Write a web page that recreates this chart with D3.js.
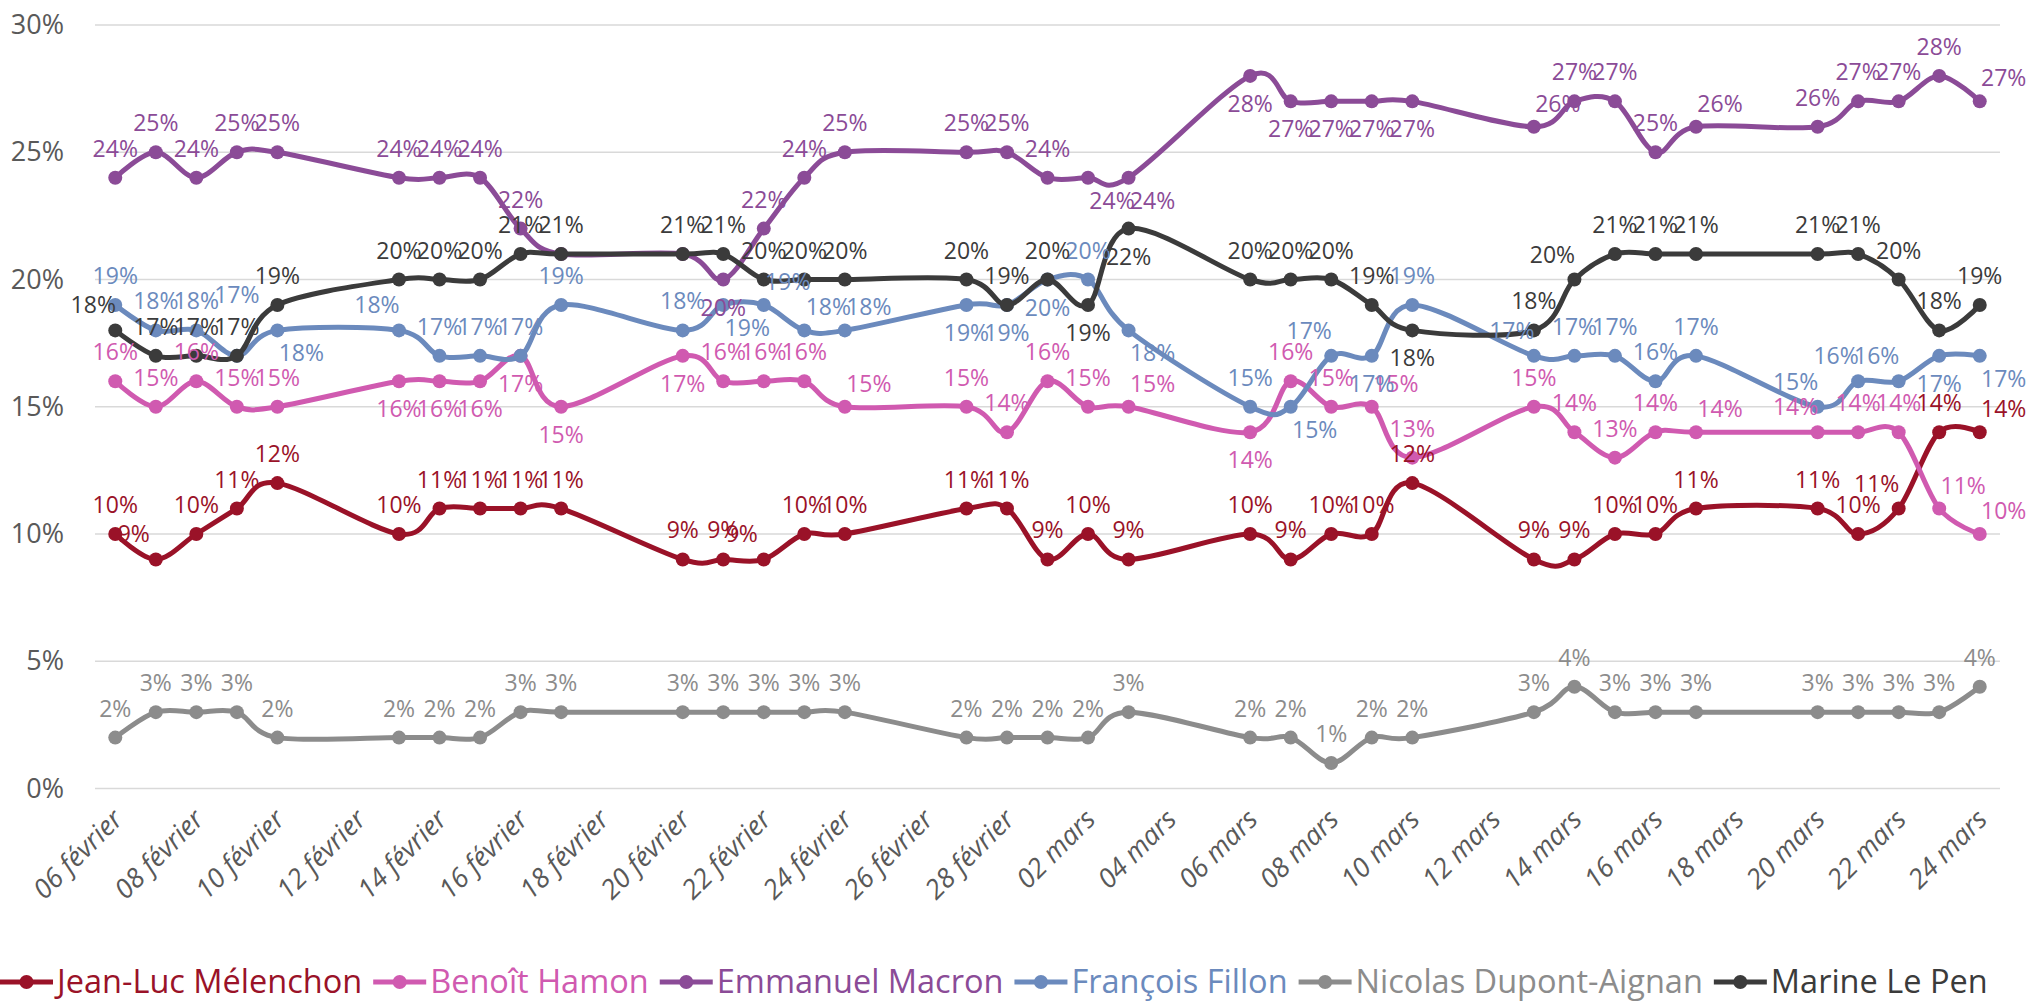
<!DOCTYPE html>
<html>
<head>
<meta charset="utf-8">
<script src="https://cdn.jsdelivr.net/npm/d3@7"></script>
<style>
  body { margin: 0; background: #fff; }
  svg { display: block; font-family: 'Open Sans', sans-serif; }
</style>
</head>
<body>
<script>
// poll dates (weekdays only)
const dates = [
  '2017-02-06', '2017-02-07', '2017-02-08', '2017-02-09', '2017-02-10',
  '2017-02-13', '2017-02-14', '2017-02-15', '2017-02-16', '2017-02-17',
  '2017-02-20', '2017-02-21', '2017-02-22', '2017-02-23', '2017-02-24',
  '2017-02-27', '2017-02-28',
  '2017-03-01', '2017-03-02', '2017-03-03',
  '2017-03-06', '2017-03-07', '2017-03-08', '2017-03-09', '2017-03-10',
  '2017-03-13', '2017-03-14', '2017-03-15', '2017-03-16', '2017-03-17',
  '2017-03-20', '2017-03-21', '2017-03-22', '2017-03-23', '2017-03-24',
]

const candidates = ['Jean-Luc Mélenchon', 'Benoît Hamon', 'Emmanuel Macron', 'François Fillon', 'Nicolas Dupont-Aignan', 'Marine Le Pen']
const colors = ['#9a1228', '#d05ab0', '#8b4b97', '#6b8abd', '#8c8c8c', '#3b3b3b']

const melenchon = [10, 9, 10, 11, 12, 10, 11, 11, 11, 11, 9, 9, 9, 10, 10, 11, 11, 9, 10, 9, 10, 9, 10, 10, 12, 9, 9, 10, 10, 11, 11, 10, 11, 14, 14]
const hamon     = [16, 15, 16, 15, 15, 16, 16, 16, 17, 15, 17, 16, 16, 16, 15, 15, 14, 16, 15, 15, 14, 16, 15, 15, 13, 15, 14, 13, 14, 14, 14, 14, 14, 11, 10]
const macron    = [24, 25, 24, 25, 25, 24, 24, 24, 22, 21, 21, 20, 22, 24, 25, 25, 25, 24, 24, 24, 28, 27, 27, 27, 27, 26, 27, 27, 25, 26, 26, 27, 27, 28, 27]
const fillon    = [19, 18, 18, 17, 18, 18, 17, 17, 17, 19, 18, 19, 19, 18, 18, 19, 19, 20, 20, 18, 15, 15, 17, 17, 19, 17, 17, 17, 16, 17, 15, 16, 16, 17, 17]
const dupont    = [2, 3, 3, 3, 2, 2, 2, 2, 3, 3, 3, 3, 3, 3, 3, 2, 2, 2, 2, 3, 2, 2, 1, 2, 2, 3, 4, 3, 3, 3, 3, 3, 3, 3, 4]
const lepen     = [18, 17, 17, 17, 19, 20, 20, 20, 21, 21, 21, 21, 20, 20, 20, 20, 19, 20, 19, 22, 20, 20, 20, 19, 18, 18, 20, 21, 21, 21, 21, 21, 20, 18, 19]

const yTicks = [0, 5, 10, 15, 20, 25, 30]

// where each data label sits: a above, A far above, b below, L above-left, R above-right, r below-right, h hidden
const labelPlacement = [
  'aLaaa aaaaa aaLaa aa aaa aaaaa aaaaa aaLaR',
  'aaaaa bbbbb baaaR aa aaR baaRa aaaaR LaaRR',
  'aaaaa aaaah hbaaa aa arr bbbbb RaaaR aaaaR',
  'aaaAr Laaaa arRRR bb bar arLba Laaaa LLLbr',
  'aaaaa aaaaa aaaaa aa aaa aaaaa aaaaa aaaaa',
  'Laaaa aaaaa aaaaa aa abb aaaab aLaaa aaaaa',
].map(s => s.replace(/ /g, ''))

const offsets = {
  a: [0, -30], A: [0, -62], b: [0, 27],
  L: [-22, -26], R: [24, -24], r: [24, 22],
}

const WIDTH = 2026
const HEIGHT = 1001

const parse = d3.utcParse('%Y-%m-%d')
const days = dates.map(parse)
const seriesValues = [melenchon, hamon, macron, fillon, dupont, lepen]

const series = candidates.map((name, i) => ({
  name,
  color: colors[i],
  points: days.map((d, j) => ({ date: d, value: seriesValues[i][j], pos: labelPlacement[i][j] })),
}))

const svg = d3.select('body')
  .append('svg')
  .attr('width', WIDTH)
  .attr('height', HEIGHT)

const x = d3.scaleUtc()
  .domain([d3.utcHour.offset(days[0], -12), d3.utcHour.offset(days[days.length - 1], 12)])
  .range([95, 2000])

const y = d3.scaleLinear()
  .domain([0, 30])
  .range([788.5, 25])

// gridlines
svg.append('g')
  .selectAll('line')
  .data(yTicks)
  .enter()
  .append('line')
  .attr('x1', 95)
  .attr('x2', 2000)
  .attr('y1', d => y(d))
  .attr('y2', d => y(d))
  .attr('stroke', '#d9d9d9')
  .attr('stroke-width', 1.5)

// y axis
const yAxis = svg.append('g')
  .attr('transform', 'translate(64,0)')
  .call(d3.axisLeft(y).tickValues(yTicks).tickSize(0).tickPadding(0).tickFormat(d => d + '%'))
yAxis.select('.domain').remove()
yAxis.selectAll('text')
  .attr('fill', '#595959')
  .style('font-size', '27px')
  .style('font-family', "'Open Sans', sans-serif")

// x axis labels
const fr = d3.timeFormatLocale({
  dateTime: '%A %e %B %Y à %X', date: '%d/%m/%Y', time: '%H:%M:%S', periods: ['AM', 'PM'],
  days: ['dimanche', 'lundi', 'mardi', 'mercredi', 'jeudi', 'vendredi', 'samedi'],
  shortDays: ['dim.', 'lun.', 'mar.', 'mer.', 'jeu.', 'ven.', 'sam.'],
  months: ['janvier', 'février', 'mars', 'avril', 'mai', 'juin', 'juillet', 'août', 'septembre', 'octobre', 'novembre', 'décembre'],
  shortMonths: ['janv.', 'févr.', 'mars', 'avr.', 'mai', 'juin', 'juil.', 'août', 'sept.', 'oct.', 'nov.', 'déc.'],
})
const tickDates = d3.utcDay.range(days[0], d3.utcDay.offset(days[days.length - 1], 1), 2)
const fmt = fr.utcFormat('%d %B')

svg.append('g')
  .selectAll('text')
  .data(tickDates)
  .enter()
  .append('text')
  .attr('transform', d => `translate(${x(d) + 9},821) rotate(-45)`)
  .attr('text-anchor', 'end')
  .attr('fill', '#595959')
  .style('font-size', '27px')
  .style('font-style', 'italic')
  .text(d => fmt(d))

// lines + markers
const line = d3.line()
  .x(d => x(d.date))
  .y(d => y(d.value))
  .curve(d3.curveCardinal.tension(0))

const seriesG = svg.append('g')
  .selectAll('g')
  .data(series)
  .enter()
  .append('g')

seriesG.append('path')
  .attr('d', d => line(d.points))
  .attr('fill', 'none')
  .attr('stroke', d => d.color)
  .attr('stroke-width', 5)
  .attr('stroke-linejoin', 'round')

seriesG.selectAll('circle')
  .data(d => d.points.map(p => ({ ...p, color: d.color })))
  .enter()
  .append('circle')
  .attr('cx', d => x(d.date))
  .attr('cy', d => y(d.value))
  .attr('r', 7)
  .attr('fill', d => d.color)

// data labels on top of everything
const labelsG = svg.append('g')
series.forEach(s => {
  labelsG.append('g')
    .selectAll('text')
    .data(s.points.filter(p => p.pos !== 'h'))
    .enter()
    .append('text')
    .attr('x', d => x(d.date) + offsets[d.pos][0])
    .attr('y', d => y(d.value) + offsets[d.pos][1])
    .attr('text-anchor', 'middle')
    .attr('dominant-baseline', 'central')
    .attr('fill', s.color)
    .style('font-size', '23px')
    .text(d => d.value + '%')
})

// legend
const legend = svg.append('g')
let lx = 0
series.forEach(s => {
  const g = legend.append('g').attr('transform', `translate(${lx},0)`)
  g.append('line')
    .attr('x1', 0).attr('x2', 53)
    .attr('y1', 982).attr('y2', 982)
    .attr('stroke', s.color)
    .attr('stroke-width', 5)
  g.append('circle')
    .attr('cx', 26.5).attr('cy', 982).attr('r', 7)
    .attr('fill', s.color)
  const t = g.append('text')
    .attr('x', 57)
    .attr('y', 993)
    .attr('fill', s.color)
    .style('font-size', '32.5px')
    .text(s.name)
  lx += 57 + t.node().getComputedTextLength() + 11
})
</script>
</body>
</html>
